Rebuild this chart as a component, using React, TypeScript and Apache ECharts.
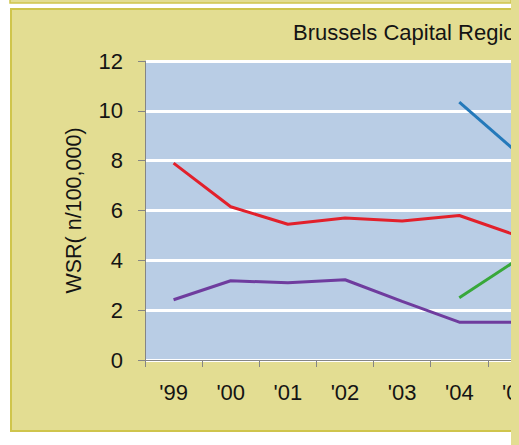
import React, { useEffect, useRef } from "react";
import * as echarts from "echarts";

const categories = ["'99", "'00", "'01", "'02", "'03", "'04", "'05"];
const redSeries = [7.9, 6.15, 5.45, 5.7, 5.58, 5.8, 5.0];
const purpleSeries = [2.42, 3.18, 3.1, 3.22, 2.35, 1.52, 1.52];
const blueSeries = [null, null, null, null, null, 10.35, 8.35];
const greenSeries = [null, null, null, null, null, 2.5, 4.0];
const yTicks = { min: 0, max: 12, interval: 2 };

const YELLOW = "#e3dd92";
const BORDER = "#cfc54c";
const CHART_W = 545;

export default function App() {
  const ref = useRef<HTMLDivElement>(null);
  useEffect(() => {
    if (!ref.current) return;
    const chart = echarts.init(ref.current, undefined, { renderer: "svg" });
    const font = "'Liberation Sans', Arial, sans-serif";
    chart.setOption({
      animation: false,
      backgroundColor: "#ffffff",
      title: {
        text: "Brussels Capital Region",
        left: 293,
        top: 21,
        padding: 0,
        textStyle: { fontFamily: font, fontSize: 22, fontWeight: "normal", color: "#141414" },
      },
      graphic: [
        { type: "rect", z: -10, shape: { x: 10, y: -2, width: 501, height: 5 }, style: { fill: YELLOW, stroke: BORDER, lineWidth: 1.5 } },
        { type: "rect", z: -10, shape: { x: 11, y: 9, width: 560, height: 422 }, style: { fill: YELLOW, stroke: BORDER, lineWidth: 2 } },
        { type: "rect", z: 100, shape: { x: 511, y: 0, width: 40, height: 445 }, style: { fill: YELLOW } },
      ],
      grid: {
        left: 145,
        top: 61,
        bottom: 85,
        right: 0,
        show: true,
        backgroundColor: "#b9cde5",
        borderWidth: 0,
      },
      xAxis: {
        type: "category",
        data: categories,
        boundaryGap: true,
        axisLine: { lineStyle: { color: "#858585", width: 1 } },
        axisTick: { show: true, length: 7, lineStyle: { color: "#858585" } },
        axisLabel: { fontFamily: font, fontSize: 22, color: "#141414", margin: 21 },
      },
      yAxis: {
        type: "value",
        min: yTicks.min,
        max: yTicks.max,
        interval: yTicks.interval,
        name: "WSR( n/100,000)",
        nameLocation: "middle",
        nameGap: 60,
        nameRotate: 90,
        nameTextStyle: { fontFamily: font, fontSize: 21.5, color: "#141414" },
        axisLine: { show: true, lineStyle: { color: "#858585", width: 1 } },
        axisTick: { show: true, length: 7, lineStyle: { color: "#858585" } },
        axisLabel: { fontFamily: font, fontSize: 22, color: "#141414", margin: 22 },
        splitLine: { show: true, lineStyle: { color: "#ffffff", width: 3 } },
      },
      series: [
        { name: "red", type: "line", data: redSeries, symbol: "none", lineStyle: { color: "#e2202b", width: 3 }, itemStyle: { color: "#e2202b" } },
        { name: "purple", type: "line", data: purpleSeries, symbol: "none", lineStyle: { color: "#6f3c9e", width: 3 }, itemStyle: { color: "#6f3c9e" } },
        { name: "blue", type: "line", data: blueSeries, symbol: "none", lineStyle: { color: "#2479ba", width: 3 }, itemStyle: { color: "#2479ba" } },
        { name: "green", type: "line", data: greenSeries, symbol: "none", lineStyle: { color: "#38a83a", width: 3 }, itemStyle: { color: "#38a83a" } },
      ],
    });
    return () => chart.dispose();
  }, []);
  return (
    <div style={{ position: "fixed", left: 0, top: 0, width: 519, height: 445, overflow: "hidden" }}>
      <div ref={ref} style={{ width: CHART_W, height: 445 }} />
    </div>
  );
}
